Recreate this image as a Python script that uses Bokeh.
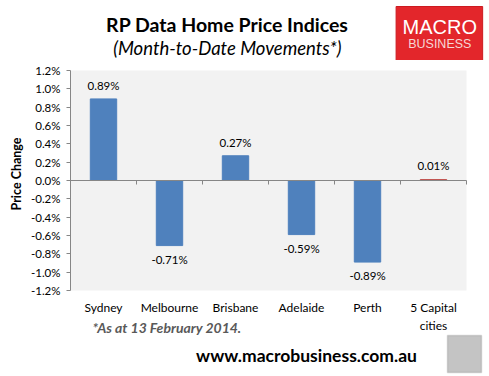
from bokeh.plotting import figure
from bokeh.layouts import column
from bokeh.models import (Range1d, FixedTicker, PrintfTickFormatter, Label, Title,
                          BoxAnnotation, ColumnDataSource)
from bokeh.embed import file_html
from bokeh.resources import INLINE
from bokeh.core.properties import value
import numpy as np

# ---- data ----
cities = ["Sydney", "Melbourne", "Brisbane", "Adelaide", "Perth", "5 Capital\ncities"]
changes = [0.89, -0.71, 0.27, -0.59, -0.89, 0.01]   # percent
bar_colors = ["#4F81BD", "#4F81BD", "#4F81BD", "#4F81BD", "#4F81BD", "#C0504D"]
y_ticks = [-1.2, -1.0, -0.8, -0.6, -0.4, -0.2, 0.0, 0.2, 0.4, 0.6, 0.8, 1.0, 1.2]
title = "RP Data Home Price Indices"
subtitle = "(Month-to-Date Movements*)"
y_label = "Price Change"
footnote = "*As at 13 February 2014."
site = "www.macrobusiness.com.au"

FONT = "Lato"
W, H = 489, 376
HEAD = 60                      # header strip height
YMIN, YMAX = y_ticks[0], y_ticks[-1]
PX_PER_UNIT = 220 / (YMAX - YMIN)
BAND = 66.0                    # px per category

# ---------------- header ----------------
hd = figure(width=W, height=HEAD, output_backend="svg", toolbar_location=None,
            x_range=Range1d(0, W), y_range=Range1d(HEAD, 0),
            min_border=0, x_axis_location=None, y_axis_location=None)
hd.outline_line_color = None
hd.grid.visible = False
hd.text(x=[183], y=[24], text=[title], text_align="center", text_baseline="middle",
        text_font=value(FONT), text_font_size="19.5px", text_font_style="bold",
        text_color="#000000")
hd.text(x=[183], y=[47], text=[subtitle], text_align="center", text_baseline="middle",
        text_font=value(FONT), text_font_size="18.5px", text_font_style="italic",
        text_color="#000000")
hd.quad(left=[380], right=[481], top=[6], bottom=[60], fill_color="#E3262B",
        line_color="#CC1A20")
hd.text(x=[431], y=[26], text=["MACRO"], text_align="center", text_baseline="middle",
        text_font=value("Liberation Sans"), text_font_size="20px", text_color="white")
hd.text(x=[431], y=[43.5], text=["BUSINESS"], text_align="center", text_baseline="middle",
        text_font=value("Liberation Sans"), text_font_size="12.5px", text_color="#F6D6D6")

# ---------------- chart ----------------
MAIN_H = H - HEAD
y_top = YMAX + (70 - HEAD) / PX_PER_UNIT
y_bot = YMIN - (H - 290) / PX_PER_UNIT
x_right = (W - 70) / BAND

xs = np.arange(len(cities)) + 0.5
vals = np.array(changes)
src = ColumnDataSource(dict(
    x=xs, top=vals, color=bar_colors,
    ly=vals + np.sign(vals) * 0.15,
    lbl=["%.2f%%" % v for v in vals],
))

p = figure(width=W, height=MAIN_H, output_backend="svg", toolbar_location=None,
           x_range=Range1d(0, x_right), y_range=Range1d(y_bot, y_top),
           min_border_left=70, min_border_right=0, min_border_top=0, min_border_bottom=0,
           x_axis_location=None)
p.background_fill_color = "white"
p.border_fill_color = "white"
p.outline_line_color = None
p.grid.visible = False

n = len(cities)
# plot area background
p.quad(left=[0], right=[n], bottom=[YMIN], top=[YMAX], fill_color="#F2F2F2", line_color=None)

p.vbar(x="x", top="top", bottom=0, width=0.4, color="color", source=src)

# horizontal axis at zero with category boundary ticks
p.segment(x0=[0], x1=[n], y0=[0], y1=[0], line_color="#868686", line_width=1)
bx = np.arange(n + 1)
p.segment(x0=bx, x1=bx, y0=np.zeros(n + 1), y1=np.full(n + 1, -4 / PX_PER_UNIT),
          line_color="#868686", line_width=1)

# data labels
p.text(x="x", y="ly", text="lbl", source=src, text_align="center",
       text_baseline="middle", text_font=value(FONT), text_font_size="11.5px",
       text_color="#000000")

# category labels (low position)
p.text(x=xs, y=np.full(n, YMIN), text=cities, text_align="center", text_baseline="top",
       y_offset=9, text_font=value(FONT), text_font_size="12px", text_color="#000000",
       text_line_height=1.25)

# y axis
ya = p.yaxis[0]
ya.bounds = (YMIN, YMAX)
ya.ticker = FixedTicker(ticks=y_ticks)
ya.formatter = PrintfTickFormatter(format="%.1f%%")
ya.axis_line_color = "#868686"
ya.major_tick_line_color = "#868686"
ya.major_tick_out = 4
ya.major_tick_in = 0
ya.minor_tick_line_color = None
ya.major_label_text_font = FONT
ya.major_label_text_font_size = "11.5px"
ya.major_label_text_color = "#000000"
ya.major_label_standoff = 6

# y axis title, placed against the plot area (not the whole frame)
p.add_layout(Title(text=y_label, align="right", offset=77, text_font=FONT,
                   text_font_size="12.5px", text_font_style="bold", text_color="#000000",
                   standoff=8), "left")

# footer texts (screen units relative to the frame's bottom-left)
p.add_layout(Label(x=92 - 70, y=H - 327, x_units="screen", y_units="screen", text=footnote,
                   text_font=FONT, text_font_size="14px", text_font_style="bold italic",
                   text_color="#595959", text_align="left", text_baseline="middle"))
p.add_layout(Label(x=306 - 70, y=H - 355, x_units="screen", y_units="screen", text=site,
                   text_font=FONT, text_font_size="17.5px", text_font_style="bold",
                   text_color="#000000", text_align="center", text_baseline="middle"))
p.add_layout(BoxAnnotation(left=447 - 70, right=481 - 70, bottom=H - 372, top=H - 335,
                           left_units="screen", right_units="screen",
                           bottom_units="screen", top_units="screen",
                           fill_color="#C4C4C4", fill_alpha=1.0,
                           line_color="#8C8C8C", line_width=1.5))

layout = column(hd, p, spacing=0)
open("out.html", "w").write(file_html(layout, INLINE))
